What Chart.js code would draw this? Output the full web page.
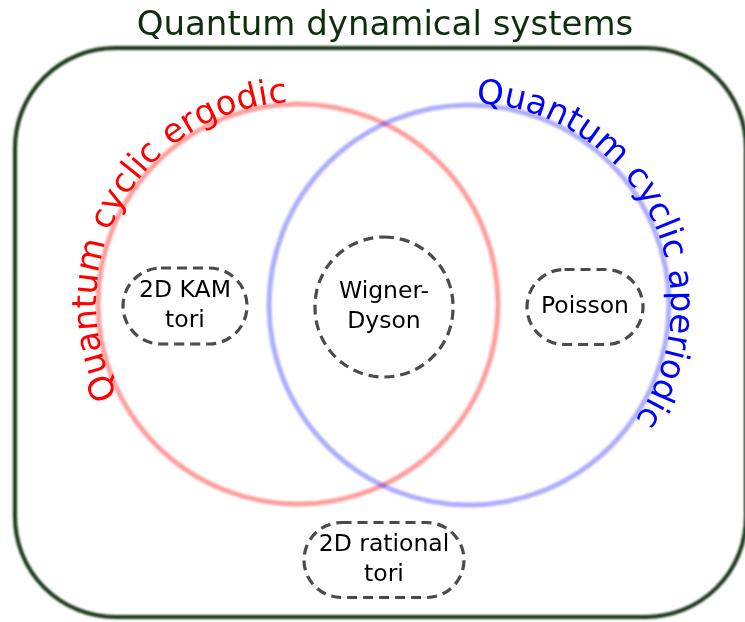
<!DOCTYPE html>
<html><head><meta charset="utf-8">
<script src="https://cdn.jsdelivr.net/npm/chart.js@4/dist/chart.umd.min.js"></script>
<style>html,body{margin:0;padding:0;background:#fff;overflow:hidden}#wrap{width:745px;height:622px;position:relative}</style>
</head><body><div id="wrap"><canvas id="c"></canvas></div>
<script>
// ---- data (diagram units) ----
const titleText = 'Quantum dynamical systems';
const universe = {x0: 15, y0: 48, x1: 746, y1: 617, r: 100};
const setNames = ['Quantum cyclic ergodic', 'Quantum cyclic aperiodic'];
const setCX = [298, 469];
const setCY = [304, 305];
const setR = [200, 200];
const setLabelStartDeg = [153, 272];
const setColors = ['rgba(255,0,0,0.38)', 'rgba(0,0,255,0.32)'];
const setTextColors = ['#ff0000', '#0000ff'];
const classLines = [['2D KAM', 'tori'], ['Wigner-', 'Dyson'], ['Poisson'], ['2D rational', 'tori']];
const classX = [185, 384, 585, 384];
const classY = [306, 307, 307, 560];
const classW = [124, 138, 116, 160];
const classH = [76, 140, 75, 75];

const FONT = '"DejaVu Sans", Verdana, sans-serif';

const vennPlugin = {
  id: 'venn',
  afterDatasetsDraw(chart) {
    const ctx = chart.ctx;
    const xs = chart.scales.x, ys = chart.scales.y;
    const px = v => xs.getPixelForValue(v);
    const py = v => ys.getPixelForValue(v);
    const sx = d => Math.abs(px(d) - px(0));
    ctx.save();
    // title
    ctx.fillStyle = '#0e2e0e';
    ctx.font = '34px ' + FONT;
    ctx.textAlign = 'center';
    ctx.textBaseline = 'alphabetic';
    ctx.fillText(titleText, px(385), py(35));
    // universe rounded rectangle
    ctx.save();
    ctx.filter = 'blur(0.9px)';
    ctx.strokeStyle = '#163616';
    ctx.lineWidth = 4;
    ctx.beginPath();
    ctx.roundRect(px(universe.x0), py(universe.y0), px(universe.x1) - px(universe.x0), py(universe.y1) - py(universe.y0), sx(universe.r));
    ctx.stroke();
    ctx.restore();
    // set circles
    for (let i = 0; i < setNames.length; i++) {
      ctx.save();
      ctx.filter = 'blur(1.2px)';
      ctx.strokeStyle = setColors[i];
      ctx.lineWidth = 5;
      ctx.beginPath();
      ctx.arc(px(setCX[i]), py(setCY[i]), sx(setR[i]), 0, Math.PI * 2);
      ctx.stroke();
      ctx.restore();
    }
    // curved set labels
    ctx.font = '34px ' + FONT;
    ctx.textAlign = 'center';
    ctx.textBaseline = 'alphabetic';
    for (let i = 0; i < setNames.length; i++) {
      const cx = px(setCX[i]), cy = py(setCY[i]);
      const R = sx(setR[i]) + 2;
      let a = setLabelStartDeg[i] * Math.PI / 180;
      ctx.fillStyle = setTextColors[i];
      for (const ch of setNames[i]) {
        const w = ctx.measureText(ch).width;
        const am = a + (w / 2) / R;
        ctx.save();
        ctx.translate(cx + R * Math.cos(am), cy + R * Math.sin(am));
        ctx.rotate(am + Math.PI / 2);
        ctx.fillText(ch, 0, 0);
        ctx.restore();
        a += w / R;
      }
    }
    // class boxes
    for (let i = 0; i < classLines.length; i++) {
      const w = sx(classW[i]), h = sx(classH[i]);
      const x = px(classX[i]) - w / 2, y = py(classY[i]) - h / 2;
      ctx.save();
      ctx.setLineDash([10, 6]);
      ctx.strokeStyle = '#4a4a4a';
      ctx.lineWidth = 3.2;
      ctx.beginPath();
      ctx.roundRect(x, y, w, h, Math.min(w, h) / 2);
      ctx.stroke();
      ctx.restore();
      ctx.fillStyle = '#000';
      ctx.font = '23.5px ' + FONT;
      ctx.textAlign = 'center';
      ctx.textBaseline = 'middle';
      const lines = classLines[i];
      const lh = 30;
      const y0 = py(classY[i]) - (lines.length - 1) * lh / 2;
      lines.forEach((t, k) => ctx.fillText(t, px(classX[i]), y0 + k * lh));
    }
    ctx.restore();
  }
};

new Chart(document.getElementById('c'), {
  type: 'scatter',
  data: {
    datasets: [{
      data: classX.map((x, i) => ({x, y: classY[i]})),
      pointRadius: 0,
      showLine: false
    }]
  },
  options: {
    responsive: true,
    maintainAspectRatio: false,
    animation: false,
    layout: {padding: 0},
    plugins: {legend: {display: false}, tooltip: {enabled: false}, title: {display: false}},
    scales: {
      x: {type: 'linear', min: 0, max: 745, display: false},
      y: {type: 'linear', min: 0, max: 622, reverse: true, display: false}
    }
  },
  plugins: [vennPlugin]
});
</script>
</body></html>
